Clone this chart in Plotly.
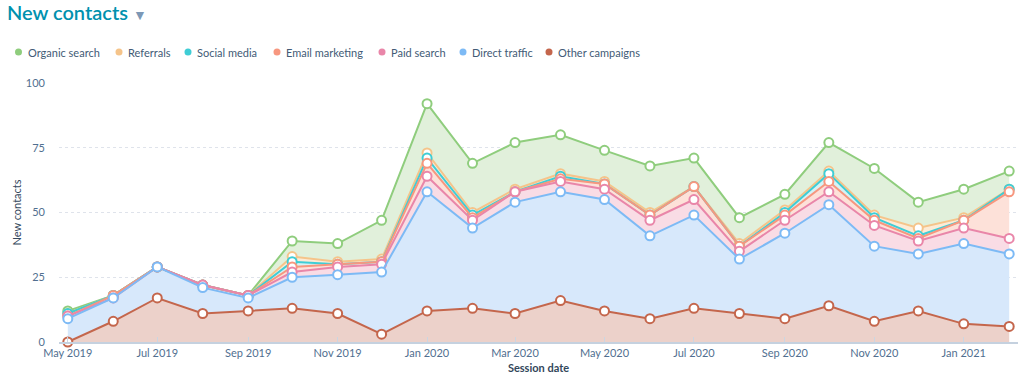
import numpy as np
import plotly.graph_objects as go

# ---------------- data ----------------
months = ["2019-05-01", "2019-06-01", "2019-07-01", "2019-08-01", "2019-09-01", "2019-10-01",
          "2019-11-01", "2019-12-01", "2020-01-01", "2020-02-01", "2020-03-01", "2020-04-01",
          "2020-05-01", "2020-06-01", "2020-07-01", "2020-08-01", "2020-09-01", "2020-10-01",
          "2020-11-01", "2020-12-01", "2021-01-01", "2021-02-01"]

other_campaigns = [0, 8, 17, 11, 12, 13, 11, 3, 12, 13, 11, 16, 12, 9, 13, 11, 9, 14, 8, 12, 7, 6]
direct_traffic = [9, 9, 12, 10, 5, 12, 15, 24, 46, 31, 43, 42, 43, 32, 36, 21, 33, 39, 29, 22, 31, 28]
paid_search = [1, 0, 0, 1, 1, 2, 3, 3, 6, 3, 4, 4, 4, 6, 6, 3, 5, 5, 8, 5, 6, 6]
email_marketing = [0, 1, 0, 0, 0, 2, 1, 1, 5, 1, 0, 1, 2, 2, 5, 2, 2, 4, 2, 1, 3, 18]
social_media = [1, 0, 0, 0, 0, 2, 0, 0, 2, 1, 0, 1, 0, 0, 0, 0, 1, 3, 1, 1, 0, 1]
referrals = [0, 0, 0, 0, 0, 2, 1, 1, 2, 1, 1, 1, 1, 1, 0, 1, 1, 1, 1, 3, 1, 0]
organic_search = [1, 0, 0, 0, 0, 6, 7, 15, 19, 19, 18, 15, 12, 18, 11, 10, 6, 11, 18, 10, 11, 7]

series_names = ["Other campaigns", "Direct traffic", "Paid search", "Email marketing",
                "Social media", "Referrals", "Organic search"]   # stacking order (bottom -> top)
series_values = [other_campaigns, direct_traffic, paid_search, email_marketing,
                 social_media, referrals, organic_search]

line_colors = {"Organic search": "#8fcd7d", "Referrals": "#f5c48a", "Social media": "#3fcdd5",
               "Email marketing": "#f7977f", "Paid search": "#e986a9", "Direct traffic": "#7dbaf5",
               "Other campaigns": "#c4664c"}
fill_colors = {"Organic search": "#e1f0db", "Referrals": "#fcebd6", "Social media": "#d6f2f4",
               "Email marketing": "#fde1d9", "Paid search": "#f9dce5", "Direct traffic": "#d7e8fb",
               "Other campaigns": "#ecd1ca"}

legend_order = ["Organic search", "Referrals", "Social media", "Email marketing",
                "Paid search", "Direct traffic", "Other campaigns"]

# ---------------- geometry ----------------
W, H = 1024, 379
ML, MR, MT, MB = 59, 6, 83, 37
PW, PH = W - ML - MR, H - MT - MB


def px(xp):
    return (xp - ML) / PW


def py(yp):
    return (H - MB - yp) / PH


cum = np.cumsum(np.array(series_values, dtype=float), axis=0)

fig = go.Figure()

# fills (stacked, bottom to top)
for i, name in enumerate(series_names):
    fig.add_trace(go.Scatter(
        x=months, y=cum[i], mode="lines", line=dict(width=0),
        fill="tozeroy" if i == 0 else "tonexty", fillcolor=fill_colors[name],
        hoverinfo="skip", showlegend=False))

# lines + markers, lower series drawn on top
for i in reversed(range(len(series_names))):
    name = series_names[i]
    fig.add_trace(go.Scatter(
        x=months, y=cum[i], mode="lines+markers", name=name,
        line=dict(color=line_colors[name], width=2),
        marker=dict(symbol="circle", size=9, color="white",
                    line=dict(color=line_colors[name], width=2)),
        cliponaxis=False, showlegend=False))

FONT = "Lato, 'Open Sans', sans-serif"

# custom legend (dot + text)
legend_dot_x = [18.5, 119, 188, 277, 382, 463, 549]
shapes = []
annotations = []
for name, dx in zip(legend_order, legend_dot_x):
    shapes.append(dict(type="circle", xref="paper", yref="paper", xsizemode="pixel",
                       ysizemode="pixel", xanchor=px(dx), yanchor=py(52),
                       x0=-3.5, x1=3.5, y0=-3.5, y1=3.5,
                       fillcolor=line_colors[name], line=dict(width=0)))
    annotations.append(dict(text=name, xref="paper", yref="paper", x=px(dx + 7), y=py(52),
                            xanchor="left", yanchor="middle", showarrow=False,
                            font=dict(family=FONT, size=11, color="#425b76")))

fig.update_layout(
    width=W, height=H,
    margin=dict(l=ML, r=MR, t=MT, b=MB, autoexpand=False),
    paper_bgcolor="white", plot_bgcolor="white",
    showlegend=False,
    title=dict(text="New contacts <span style='color:#7c98b6;font-size:14px'>▼</span>",
               x=7 / W, xref="container", xanchor="left",
               y=1 - 13 / H, yref="container", yanchor="middle",
               font=dict(family=FONT, size=20, color="#0091ae", weight=600)),
    shapes=shapes,
    annotations=annotations,
    xaxis=dict(
        type="date",
        range=["2019-04-25", "2021-02-07"],
        tick0="2019-05-01", dtick="M2", tickformat="%b %Y",
        ticks="inside", ticklen=5, tickcolor="#cbd6e2",
        showgrid=False, zeroline=False,
        showline=True, linecolor="#c5d1df", linewidth=2,
        tickfont=dict(family=FONT, size=11, color="#516f90"),
        title=dict(text="<b>Session date</b>", standoff=6,
                   font=dict(family=FONT, size=11, color="#33475b")),
        automargin=False, fixedrange=True,
    ),
    yaxis=dict(
        range=[0, 100], tickvals=[0, 25, 50, 75, 100],
        showgrid=True, gridcolor="#dfe3eb", griddash="3px,3px", gridwidth=1,
        zeroline=False, showline=False, ticks="",
        ticklabelstandoff=13,
        tickfont=dict(family=FONT, size=11, color="#516f90"),
        title=dict(text="New contacts", standoff=2,
                   font=dict(family=FONT, size=11, color="#33475b")),
        automargin=False, fixedrange=True,
    ),
)

fig.write_html("out.html", config={"displayModeBar": False},
               post_script="document.body.style.margin='0px';")
